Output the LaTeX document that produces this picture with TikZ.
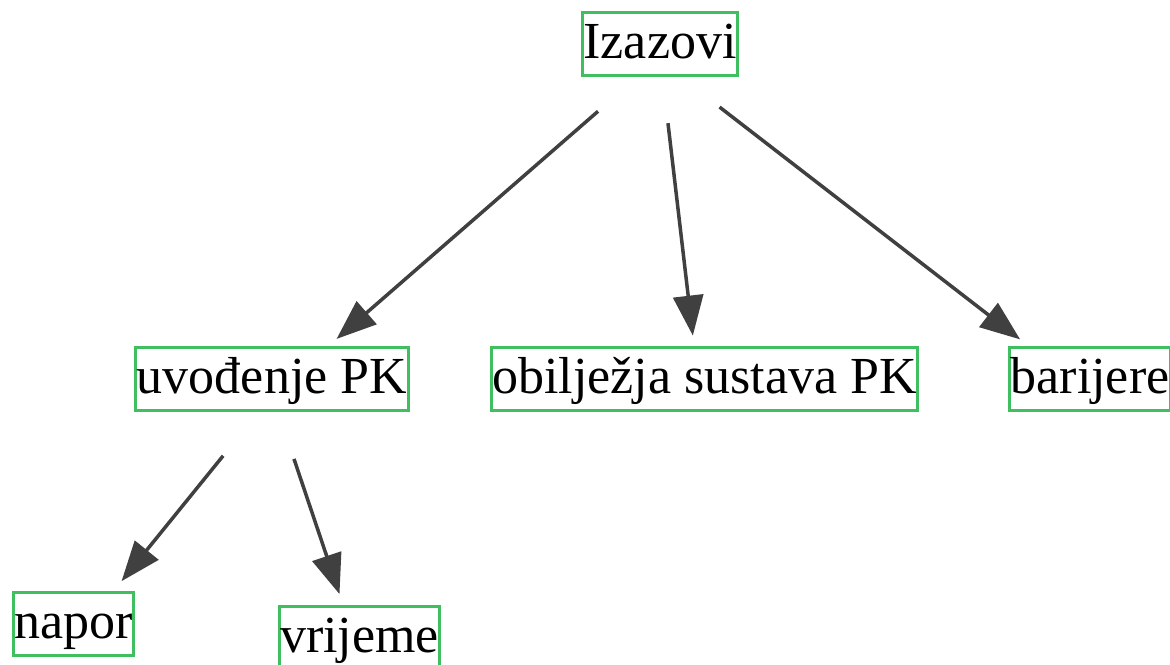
\documentclass[tikz,border=0pt]{standalone}
\usepackage{fontspec}
\setmainfont{Liberation Serif}
\usetikzlibrary{arrows.meta}

\newlength{\du}
\setlength{\du}{0.5pt}

\definecolor{boxcolor}{rgb}{0.250000, 0.750000, 0.380000}
\definecolor{linkcolor}{rgb}{0.250000, 0.250000, 0.250000}

\tikzset{
  topicbox/.style={draw=boxcolor, line width=3\du, inner xsep=1\du, inner ysep=0pt,
    text height=46\du, text depth=17\du, anchor=base,
    font=\fontsize{26pt}{31pt}\selectfont},
  link/.style={draw=linkcolor, line width=3.5\du, -{Triangle[length=20pt,width=15pt]}}
}

\begin{document}
\begin{tikzpicture}
\pgftransformxscale{1.000000}
\pgftransformyscale{-1.000000}
\useasboundingbox (0\du,0\du) rectangle (1170\du,664\du);
% setfont left to latex
\node[topicbox] (izazovi) at (660.000000\du,58.000000\du){Izazovi};
\node[topicbox] (uvodenje) at (272.000000\du,393.000000\du){uvođenje PK};
\node[topicbox] (obiljezja) at (704.500000\du,393.000000\du){obilježja sustava PK};
\node[topicbox] (barijere) at (1090.000000\du,393.000000\du){barijere};
\node[topicbox] (napor) at (73.500000\du,638.000000\du){napor};
\node[topicbox] (vrijeme) at (359.500000\du,652.000000\du){vrijeme};
% was here!!!
\draw[link, shorten <=53\du, shorten >=10\du] ([xshift=-22\du]izazovi.south)--([xshift=57\du]uvodenje.north);
\draw[link, shorten <=47\du, shorten >=10\du] ([xshift=2.5\du]izazovi.south)--([xshift=-10.5\du]obiljezja.north);
\draw[link, shorten <=50\du, shorten >=10\du] ([xshift=20\du]izazovi.south)--([xshift=-62\du]barijere.north);
\draw[link, shorten <=57\du, shorten >=12\du] ([xshift=-13\du]uvodenje.south)--([xshift=40.5\du]napor.north);
\draw[link, shorten <=50\du, shorten >=11\du] ([xshift=6\du]uvodenje.south)--([xshift=-16.5\du]vrijeme.north);
\end{tikzpicture}
\end{document}
